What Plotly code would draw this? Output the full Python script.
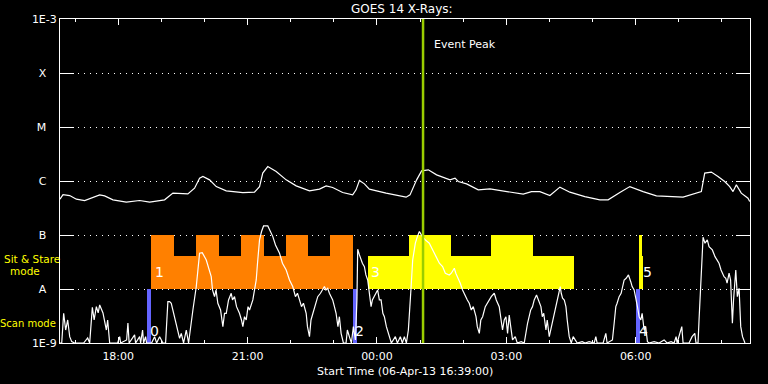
import numpy as np
import pandas as pd
import plotly.graph_objects as go

START = "2013-04-06 16:39:00"
SPAN_HOURS = 16

# GOES long channel (1-8 A), minutes after start, W/m^2
LONG_MIN = [0, 4.2, 13.5, 22.8, 34.3, 45.9, 55.2, 62.1, 73.7, 92.3,
            110.8, 124.7, 145.5, 157.1, 177.9, 187.2, 194.2, 198.8, 208.1, 217.4,
            231.3, 254.4, 270.6, 277.6, 282.1, 289.1, 300.8, 314.7, 328.6, 347.1,
            361.0, 370.3, 379.4, 393.3, 407.2, 411.9, 416.6, 423.5, 430.4, 453.7,
            481.5, 487.0, 496.2, 503.1, 512.4, 524.0, 542.6, 549.6, 554.1, 565.7,
            581.9, 598.2, 616.7, 644.5, 656.0, 667.7, 681.6, 695.5, 709.4, 730.2,
            751.1, 762.6, 778.9, 792.8, 811.3, 829.8, 866.9, 880.8, 892.3, 897.0,
            906.2, 915.5, 924.8, 931.8, 936.4, 941.0, 947.9, 957.2, 959.6]
LONG_FLUX = [4.61e-7, 5.61e-7, 5.37e-7, 4.61e-7, 4.35e-7, 5.02e-7, 5.53e-7, 5.31e-7, 4.48e-7, 4.06e-7,
             4.35e-7, 4.06e-7, 4.48e-7, 5.96e-7, 5.78e-7, 7.36e-7, 1.13e-6, 1.21e-6, 1.05e-6, 7.88e-7,
             6.56e-7, 6.11e-7, 6.21e-7, 7.88e-7, 1.40e-6, 1.85e-6, 1.50e-6, 1.05e-6, 8.13e-7, 6.56e-7,
             7.06e-7, 8.13e-7, 7.57e-7, 6.11e-7, 5.53e-7, 6.86e-7, 1.02e-6, 8.85e-7, 7.06e-7, 5.96e-7,
             5.02e-7, 5.53e-7, 1.05e-6, 1.54e-6, 1.61e-6, 1.30e-6, 1.05e-6, 1.13e-6, 9.78e-7, 8.85e-7,
             6.86e-7, 7.14e-7, 6.56e-7, 5.70e-7, 6.37e-7, 6.37e-7, 5.37e-7, 7.69e-7, 6.21e-7, 5.15e-7,
             4.48e-7, 4.48e-7, 6.11e-7, 7.88e-7, 6.37e-7, 5.31e-7, 5.02e-7, 5.70e-7, 6.37e-7, 1.40e-6,
             1.46e-6, 1.21e-6, 9.78e-7, 7.88e-7, 6.37e-7, 8.49e-7, 5.96e-7, 4.81e-7, 4.16e-7]

# GOES short channel (0.5-4 A)
SHORT_MIN = [0, 2.4, 5.1, 7.9, 10.7, 13.5, 16.3, 20.4, 32.9, 38.5,
             41.3, 45.0, 47.5, 50.6, 53.1, 55.2, 59.8, 64.5, 66.3, 69.1,
             80.2, 83.0, 84.4, 92.7, 94.5, 96.2, 103.8, 105.2, 110.8, 112.2,
             114.9, 116.3, 119.1, 120.5, 127.4, 131.6, 134.4, 138.6, 143.2, 146.9,
             150.1, 152.5, 154.8, 157.1, 161.8, 166.4, 168.7, 171.9, 175.7, 178.9,
             184.9, 189.6, 194.2, 197.9, 203.5, 206.7, 210.4, 212.2, 215.0, 217.1,
             219.6, 223.4, 226.6, 228.9, 231.3, 234.5, 238.2, 240.0, 242.8, 245.6,
             249.7, 252.5, 254.4, 256.7, 259.1, 261.6, 263.7, 268.3, 270.6, 273.0,
             274.8, 277.6, 280.4, 283.2, 289.1, 291.5, 296.1, 299.8, 305.4, 309.5,
             314.7, 319.3, 323.8, 327.6, 330.4, 333.2, 336.0, 338.7, 342.5, 344.3,
             347.1, 349.2, 351.6, 354.0, 358.6, 362.4, 367.9, 370.0, 372.5, 374.8,
             379.4, 381.8, 384.1, 386.7, 388.7, 391.1, 394.3, 398.0, 399.8, 402.6,
             405.4, 408.2, 411.0, 413.1, 414.2, 416.6, 419.0, 420.7, 423.5, 425.6,
             428.1, 430.4, 432.8, 434.6, 437.3, 439.4, 441.9, 444.3, 446.7, 449.2,
             451.3, 454.1, 458.3, 461.0, 466.6, 469.4, 473.5, 476.3, 479.1, 481.9,
             484.7, 486.8, 488.4, 490.7, 494.4, 497.2, 500.0, 504.2, 508.3, 513.8,
             518.0, 523.2, 527.8, 532.3, 536.1, 541.6, 544.4, 548.6, 550.7, 553.2,
             556.9, 560.1, 563.9, 566.7, 569.4, 572.2, 575.0, 578.8, 580.6, 583.4,
             585.5, 588.0, 591.7, 594.5, 597.3, 600.0, 604.2, 607.0, 611.1, 613.2,
             615.7, 618.1, 620.4, 622.7, 625.0, 627.1, 629.6, 633.4, 636.2, 641.7,
             645.9, 650.5, 652.8, 654.9, 657.4, 659.8, 663.0, 665.4, 669.1, 671.0,
             673.0, 676.1, 677.9, 680.7, 682.8, 685.3, 687.7, 690.0, 692.3, 696.0,
             697.4, 699.2, 701.6, 703.9, 705.7, 708.5, 711.3, 714.0, 716.8, 719.6,
             726.5, 730.7, 736.2, 743.2, 745.5, 747.3, 755.7, 759.4, 761.2, 765.4,
             768.6, 771.0, 773.3, 775.1, 777.9, 780.7, 784.9, 787.7, 790.9, 794.2,
             796.0, 798.8, 800.9, 803.4, 805.8, 808.1, 809.9, 812.7, 814.8, 817.3,
             819.6, 826.6, 833.5, 840.5, 844.6, 850.2, 854.4, 857.2, 858.6, 865.1,
             866.9, 875.2, 879.4, 883.2, 884.9, 887.7, 889.1, 891.5, 893.3, 894.7,
             897.4, 900.6, 903.0, 907.6, 911.3, 914.1, 916.9, 919.7, 921.5, 923.9,
             926.3, 928.1, 930.9, 933.0, 935.5, 937.1, 940.2, 942.4, 944.8, 947.1,
             949.6, 951.7, 953.0]
SHORT_FLUX = [1e-9, 1e-9, 3.55e-9, 1.74e-9, 2.67e-9, 1.31e-9, 1.06e-9, 1e-9, 1e-9, 1.24e-9,
              1e-9, 4.59e-9, 2.67e-9, 4.71e-9, 3.6e-9, 5.06e-9, 3.6e-9, 1.74e-9, 2.67e-9, 1e-9,
              1e-9, 1.31e-9, 1e-9, 1.14e-9, 2.35e-9, 1e-9, 1.41e-9, 1e-9, 1.31e-9, 1e-9,
              1.74e-9, 1e-9, 1.31e-9, 1e-9, 1e-9, 1.31e-9, 1e-9, 1.31e-9, 1e-9, 1e-9,
              5.83e-9, 5.83e-9, 5.44e-9, 4.09e-9, 2.32e-9, 1.22e-9, 1.51e-9, 1e-9, 1.74e-9, 1e-9,
              4.09e-9, 1.11e-8, 4.6e-8, 4.72e-8, 3.45e-8, 2.46e-8, 1.69e-8, 9.6e-9, 7.21e-9, 9.6e-9,
              5.44e-9, 4.09e-9, 2.01e-9, 3.55e-9, 3.55e-9, 6.27e-9, 8.34e-9, 6.27e-9, 7.21e-9, 4.71e-9,
              3.55e-9, 2.67e-9, 2.01e-9, 3.07e-9, 2.67e-9, 4.71e-9, 4.09e-9, 6.27e-9, 9.6e-9, 1.47e-8,
              3.0e-8, 8.11e-8, 1.16e-7, 1.47e-7, 1.47e-7, 1.24e-7, 9.34e-8, 6.55e-8, 4.6e-8, 3.0e-8,
              2.25e-8, 1.47e-8, 1.11e-8, 7.21e-9, 8.34e-9, 6.27e-9, 4.71e-9, 5.44e-9, 3.55e-9, 2.01e-9,
              1.31e-9, 2.67e-9, 3.55e-9, 4.71e-9, 7.21e-9, 8.34e-9, 1.11e-8, 9.6e-9, 1.03e-8, 8.34e-9,
              6.27e-9, 4.71e-9, 3.55e-9, 2.01e-9, 3.07e-9, 1.51e-9, 1e-9, 1e-9, 1.74e-9, 1.31e-9,
              1e-9, 2.01e-9, 1.14e-9, 6.27e-9, 5.45e-8, 4.28e-8, 3.45e-8, 3.0e-8, 2.6e-8, 1.82e-8,
              1.47e-8, 7.21e-9, 4.71e-9, 6.27e-9, 7.21e-9, 8.34e-9, 9.6e-9, 6.27e-9, 6.27e-9, 3.55e-9,
              3.07e-9, 2.01e-9, 1.31e-9, 1e-9, 1.31e-9, 1e-9, 1.31e-9, 1e-9, 1.31e-9, 1e-9,
              1.74e-9, 4.09e-9, 1.04e-8, 3.45e-8, 7.05e-8, 9.34e-8, 1.16e-7, 9.34e-8, 8.11e-8, 7.05e-8,
              5.29e-8, 3.98e-8, 3.0e-8, 2.6e-8, 1.96e-8, 1.82e-8, 1.96e-8, 2.42e-8, 1.96e-8, 1.69e-8,
              1.28e-8, 9.6e-9, 7.21e-9, 6.27e-9, 5.44e-9, 4.09e-9, 4.71e-9, 3.07e-9, 2.01e-9, 1.51e-9,
              2.67e-9, 3.07e-9, 4.71e-9, 5.44e-9, 6.27e-9, 7.21e-9, 8.34e-9, 6.27e-9, 4.71e-9, 2.67e-9,
              1.74e-9, 2.67e-9, 3.07e-9, 1.51e-9, 3.3e-9, 2.01e-9, 1.14e-9, 1.31e-9, 1e-9, 1.06e-9,
              1e-9, 2.32e-9, 3.07e-9, 4.09e-9, 4.71e-9, 6.27e-9, 7.76e-9, 6.27e-9, 4.71e-9, 3.07e-9,
              3.55e-9, 1.74e-9, 2.67e-9, 1.31e-9, 1.74e-9, 2.32e-9, 3.55e-9, 4.71e-9, 6.27e-9, 1.11e-8,
              8.34e-9, 6.74e-9, 6.27e-9, 4.71e-9, 2.67e-9, 1.31e-9, 1e-9, 1.31e-9, 1.14e-9, 1e-9,
              1.06e-9, 1e-9, 1.06e-9, 1e-9, 1.31e-9, 1e-9, 1e-9, 1.51e-9, 1e-9, 1.06e-9,
              1.14e-9, 2.32e-9, 4.71e-9, 5.44e-9, 7.21e-9, 8.34e-9, 1.47e-8, 1.58e-8, 1.82e-8, 1.35e-8,
              1.11e-8, 9.6e-9, 7.21e-9, 4.71e-9, 3.07e-9, 2.67e-9, 3.55e-9, 1.74e-9, 2.01e-9, 1.06e-9,
              1e-9, 1.06e-9, 1e-9, 1.14e-9, 1e-9, 1.06e-9, 1e-9, 1.31e-9, 1e-9, 2.01e-9,
              1e-9, 1e-9, 1.31e-9, 1.51e-9, 1e-9, 1e-9, 2.67e-9, 1.47e-8, 5.29e-8, 9.1e-8,
              7.05e-8, 8.11e-8, 6.1e-8, 5.29e-8, 3.98e-8, 3.45e-8, 3.0e-8, 2.25e-8, 1.96e-8, 1.69e-8,
              1.58e-8, 1.28e-8, 1.96e-8, 1.47e-8, 2.32e-9, 6.27e-9, 2.25e-8, 7.21e-9, 1.03e-8, 2.01e-9,
              1.31e-9, 1.06e-9, 1e-9]

# Observation blocks (minutes after start)
SIT_FLOOR = 1e-8
SIT1_EDGES = [126.1, 158.0, 188.6, 220.6, 251.2, 283.2, 313.8, 345.7, 376.3, 408.2]
SIT1_TOPS = [1e-7, 4.1e-8, 1e-7, 4.1e-8, 1e-7, 4.1e-8, 1e-7, 4.1e-8, 1e-7]
SIT3_EDGES = [429.1, 486.0, 544.4, 600.0, 658.4, 715.4]
SIT3_TOPS = [4.1e-8, 1e-7, 4.1e-8, 1e-7, 4.1e-8]
SIT5_EDGES = [805.7, 809.4, 810.8]
SIT5_TOPS = [1e-7, 4.1e-8]
SCAN_FLOOR = 1e-9
SCAN_TOP = 1e-8
SCAN_START = [120.5, 407.8, 801.6]
SCAN_END = [126.1, 413.4, 807.2]
SCAN_IDS = ["0", "2", "4"]
SIT_IDS = ["1", "3", "5"]

EVENT_PEAK_MIN = 505.1

Y_TICKS = [1e-9, 1e-8, 1e-7, 1e-6, 1e-5, 1e-4, 1e-3]
Y_TEXT = ["1E-9", "A\u00a0\u00a0\u00a0", "B\u00a0\u00a0\u00a0", "C\u00a0\u00a0\u00a0",
          "M\u00a0\u00a0\u00a0", "X\u00a0\u00a0\u00a0", "1E-3"]

t0 = pd.Timestamp(START)


def tm(m):
    return t0 + pd.to_timedelta(np.asarray(m, dtype=float), unit="m")


fig = go.Figure()


def add_blocks(edges, tops, floor, color):
    e = np.asarray(edges, dtype=float)
    mids = (e[:-1] + e[1:]) / 2
    widths = (e[1:] - e[:-1]) * 60000.0
    fig.add_trace(go.Bar(
        x=tm(mids), y=np.asarray(tops) - floor, base=floor, width=widths,
        marker=dict(color=color, line=dict(width=0)), hoverinfo="skip"))


add_blocks(SIT1_EDGES, SIT1_TOPS, SIT_FLOOR, "#ff8000")
add_blocks(SIT3_EDGES, SIT3_TOPS, SIT_FLOOR, "#ffff00")
add_blocks(SIT5_EDGES, SIT5_TOPS, SIT_FLOOR, "#ffff00")
for s, e in zip(SCAN_START, SCAN_END):
    add_blocks([s, e], [SCAN_TOP], SCAN_FLOOR, "#6464ff")

fig.add_trace(go.Scatter(x=tm(LONG_MIN), y=LONG_FLUX, mode="lines",
                         line=dict(color="white", width=1.2), hoverinfo="skip"))
fig.add_trace(go.Scatter(x=tm(SHORT_MIN), y=SHORT_FLUX, mode="lines",
                         line=dict(color="white", width=1.2), hoverinfo="skip"))
fig.add_trace(go.Scatter(x=tm([EVENT_PEAK_MIN, EVENT_PEAK_MIN]), y=[1e-9, 1e-3], mode="lines",
                         line=dict(color="#9acd00", width=2.5), hoverinfo="skip"))

FONT = "DejaVu Sans"
ann = []
ann.append(dict(text="GOES 14 X-Rays:", xref="paper", yref="paper", x=0.495, y=1.032,
                xanchor="center", yanchor="middle", showarrow=False,
                font=dict(size=12, color="white", family=FONT)))
ann.append(dict(text="Event Peak", xref="x", yref="y", x=tm([EVENT_PEAK_MIN])[0], y=-3.47,
                xanchor="left", yanchor="middle", xshift=9, showarrow=False,
                font=dict(size=11, color="white", family=FONT)))
sit_starts = [SIT1_EDGES[0], SIT3_EDGES[0], SIT5_EDGES[0]]
for sid, s, sh in zip(SIT_IDS, sit_starts, [2, 1, 2]):
    ann.append(dict(text=sid, xref="x", yref="y", x=tm([s])[0], y=-7.684,
                    xanchor="left", yanchor="middle", xshift=sh, showarrow=False,
                    font=dict(size=14, color="white", family=FONT)))
for sid, s, sh in zip(SCAN_IDS, SCAN_START, [1, 0, 1]):
    ann.append(dict(text=sid, xref="x", yref="y", x=tm([s])[0], y=-8.78,
                    xanchor="left", yanchor="middle", xshift=sh, showarrow=False,
                    font=dict(size=14, color="white", family=FONT)))
ann.append(dict(text="Sit & Stare", xref="paper", yref="paper", x=-0.04, y=0.2595,
                xanchor="center", yanchor="middle", showarrow=False,
                font=dict(size=10.5, color="#ffff00", family=FONT)))
ann.append(dict(text="mode", xref="paper", yref="paper", x=-0.0514, y=0.2224,
                xanchor="center", yanchor="middle", showarrow=False,
                font=dict(size=10.5, color="#ffff00", family=FONT)))
ann.append(dict(text="Scan mode", xref="paper", yref="paper", x=-0.046, y=0.0587,
                xanchor="center", yanchor="middle", showarrow=False,
                font=dict(size=10, color="#ffff00", family=FONT)))
ann.append(dict(text="Start Time (06-Apr-13 16:39:00)", xref="paper", yref="paper",
                x=0.5, y=-0.0865, xanchor="center", yanchor="middle", showarrow=False,
                font=dict(size=11, color="white", family=FONT)))

fig.update_layout(
    width=768, height=384,
    margin=dict(l=60, r=18, t=19, b=41, pad=0, autoexpand=False),
    paper_bgcolor="black", plot_bgcolor="black",
    showlegend=False, barmode="overlay", bargap=0,
    font=dict(family=FONT, size=11, color="white"),
    annotations=ann,
)
fig.update_xaxes(
    type="date", range=[t0, t0 + pd.Timedelta(hours=SPAN_HOURS)],
    tickmode="linear", tick0="2013-04-06 18:00:00", dtick=3 * 3600 * 1000,
    tickformat="%H:%M", ticks="inside", ticklen=6, tickcolor="white", tickwidth=1,
    minor=dict(dtick=3600 * 1000, tick0="2013-04-06 18:00:00", ticks="inside",
               ticklen=3, tickcolor="white", tickwidth=1, showgrid=False),
    showline=True, linecolor="white", linewidth=1, mirror="ticks",
    showgrid=False, zeroline=False, ticklabelstandoff=3, automargin=False,
    tickfont=dict(size=11, color="white", family=FONT),
)
fig.update_yaxes(
    type="log", range=[-9, -3], tickmode="array", tickvals=Y_TICKS, ticktext=Y_TEXT,
    ticks="inside", ticklen=14, tickcolor="white", tickwidth=1,
    showline=True, linecolor="white", linewidth=1, mirror="ticks", automargin=False,
    showgrid=True, gridcolor="white", gridwidth=1, griddash="1px,5px",
    zeroline=False, tickfont=dict(size=11, color="white", family=FONT),
)

fig.write_html("out.html", config={"displayModeBar": False},
               post_script="document.body.style.margin='0';document.body.style.background='black';")
